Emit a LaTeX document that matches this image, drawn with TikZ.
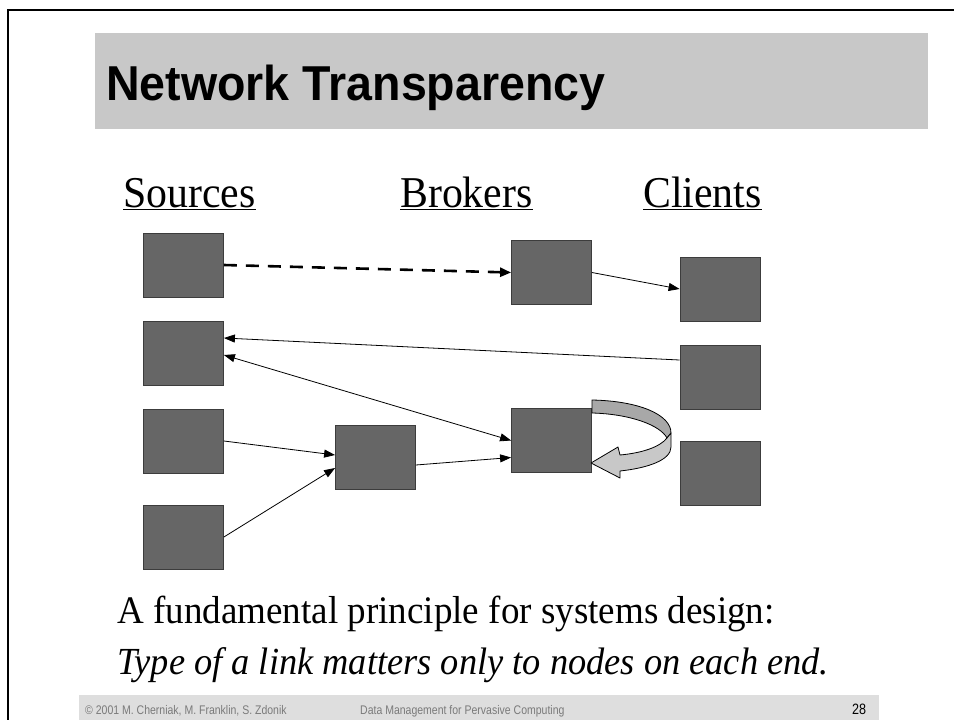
\documentclass[tikz,border=0pt]{standalone}
\usepackage{fontspec}
\setmainfont{Liberation Serif}[
  UprightFont=*, BoldFont=* Bold, ItalicFont=* Italic, BoldItalicFont=* Bold Italic,
  FakeStretch=0.95]
\newfontfamily\arialfont[FakeStretch=0.95]{Liberation Sans}
\newfontfamily\footfont[FakeStretch=0.84]{Liberation Sans}
\usetikzlibrary{arrows.meta}
\definecolor{titlegray}{HTML}{C8C8C8}
\definecolor{footgray}{HTML}{DEDEDE}
\definecolor{boxfill}{HTML}{666666}
\definecolor{boxedge}{HTML}{3C3C3C}
\definecolor{backband}{HTML}{A8A8A8}
\definecolor{frontband}{HTML}{C8C8C8}
\definecolor{foottext}{HTML}{7A7A7A}
\tikzset{
  blk/.style={rectangle, fill=boxfill, draw=boxedge, line width=0.8pt, minimum width=80pt, minimum height=64pt, inner sep=0pt},
  link/.style={line width=0.8pt, -{Triangle[length=11pt,width=8pt]}},
  duolink/.style={line width=0.8pt, {Triangle[length=11pt,width=8pt]}-{Triangle[length=11pt,width=8pt]}},
  dashlink/.style={line width=2.6pt, dash pattern=on 13pt off 9pt, -{Triangle[length=11pt,width=9pt]}},
  heading/.style={anchor=base west, inner sep=0pt, font=\fontsize{44}{50}\selectfont},
  body/.style={anchor=base west, inner sep=0pt, font=\fontsize{39}{46}\selectfont},
  foot/.style={anchor=base west, inner sep=0pt, text=foottext, font=\footfont\fontsize{12.5}{15}\selectfont}
}
\begin{document}
\begin{tikzpicture}[x=1pt,y=-1pt]
\useasboundingbox (0,0) rectangle (954,720);
\fill[white] (0,0) rectangle (954,720);
% frame
\draw[line width=2.6pt] (8,720) -- (8,10) -- (954,10);
% title bar
\fill[titlegray] (95,33) rectangle (928,129);
\node[anchor=base west, inner sep=0pt, font=\arialfont\bfseries\fontsize{49}{56}\selectfont] (title) at (106,100) {Network Transparency};
% headings
\node[heading] (hs) at (123,207) {\underline{Sources}};
\node[heading] (hb) at (400,207) {\underline{Brokers}};
\node[heading] (hc) at (643,207) {\underline{Clients}};
% boxes
\node[blk] (s1) at (183.5,265) {};
\node[blk] (s2) at (183.5,353) {};
\node[blk] (s3) at (183.5,441) {};
\node[blk] (s4) at (183.5,537) {};
\node[blk] (b1) at (551.5,272.5) {};
\node[blk] (m)  at (375.5,457) {};
\node[blk] (b2) at (551.5,440.5) {};
\node[blk] (c1) at (720,289) {};
\node[blk] (c2) at (720,377) {};
\node[blk] (c3) at (720,473) {};
% connectors
\draw[dashlink] (s1.east) -- (b1.west);
\draw[link] (b1.east) -- (c1.west);
\draw[link] ([yshift=17pt]c2.west) -- ([yshift=15pt]s2.east);
\draw[duolink] ([yshift=-2pt]s2.east) -- (b2.west);
\draw[link] (s3.east) -- ([yshift=2pt]m.west);
\draw[link] (s4.east) -- ([yshift=-11pt]m.west);
\draw[link] ([yshift=-8pt]m.east) -- ([yshift=-17pt]b2.west);
% curved block arrow
\filldraw[fill=backband, draw=black, line width=0.8pt, line join=round]
  (592,400) .. controls (640,401) and (671,415) .. (671,433)
  -- (667,438) .. controls (660,425) and (630,414) .. (592,413) -- cycle;
\filldraw[fill=frontband, draw=black, line width=0.8pt, line join=round]
  (667,438) .. controls (660,447) and (642,453) .. (620,455)
  -- (618,447) -- (591,463) -- (620,478) -- (620,471)
  .. controls (648,468) and (671,460) .. (671,447) -- (671,433) -- cycle;
% statement
\node[body] (l1) at (117,623) {A fundamental principle for systems design:};
\node[body, font=\fontsize{38.3}{46}\selectfont] (l2) at (117,674) {\itshape Type of a link matters only to nodes on each end.};
% footer
\fill[footgray] (79,695) rectangle (879,720);
\node[foot] (f1) at (85,714) {© 2001 M. Cherniak, M. Franklin, S. Zdonik};
\node[foot] (f2) at (360,714) {Data Management for Pervasive Computing};
\node[foot, text=black, font=\footfont\fontsize{15}{18}\selectfont] (f3) at (852,714) {28};
\end{tikzpicture}
\end{document}
